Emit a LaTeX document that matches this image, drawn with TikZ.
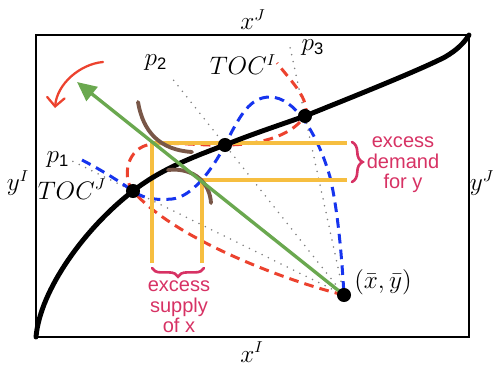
\documentclass[tikz,border=0pt]{standalone}
\usepackage{amsmath}
\usepackage{fontspec}
\setsansfont{Liberation Sans}
\usetikzlibrary{arrows.meta,positioning,calc,decorations.pathreplacing}
\definecolor{tocred}{RGB}{236,66,46}
\definecolor{tocblue}{RGB}{22,52,238}
\definecolor{pricegreen}{RGB}{106,168,79}
\definecolor{excessyellow}{RGB}{246,190,64}
\definecolor{icbrown}{RGB}{121,87,72}
\definecolor{notepink}{RGB}{215,50,100}

\begin{document}
\begin{tikzpicture}[
      x=0.02cm, y=-0.02cm,
      >=Stealth,
      eq/.style={circle, fill=black, inner sep=0pt, minimum size=8pt},
      lbl/.style={font=\fontsize{13.5}{16}\selectfont, inner sep=1pt},
      note/.style={font=\sffamily\fontsize{11.4}{11.6}\selectfont, text=notepink,
        align=center, inner sep=0pt},
      toc/.style={line width=1.7pt, dash pattern=on 5.5pt off 3.5pt},
      price/.style={black!50, line width=1pt, dash pattern=on 0pt off 4pt, line cap=round},
      excess/.style={excessyellow, line width=2.2pt},
      ic/.style={icbrown, line width=2.2pt, line cap=round},
      curly/.style={notepink, line width=1.5pt, line cap=round, decorate},
  ]
      \useasboundingbox (0,0) rectangle (497,366);

      % Edgeworth box
      \draw[line width=1.1pt] (36,35) rectangle (469,337);
      \node[lbl] (xJ) at (253,20) {$x^J$};
      \node[lbl] (xI) at (252,352) {$x^I$};
      \node[lbl] (yI) at (18,183) {$y^I$};
      \node[lbl] (yJ) at (482,183) {$y^J$};

      % Endowment and equilibria
      \coordinate (endow) at (344,295);
      \coordinate (eq1) at (133,191);
      \coordinate (eq2) at (225,145);
      \coordinate (eq3) at (305,116);

      % Price lines through the endowment
      \draw[price] (endow) -- ($(endow)!1.3!(eq1)$) coordinate (p1end);
      \draw[price] (endow) -- ($(endow)!1.45!(eq2)$) coordinate (p2end);
      \draw[price] (endow) -- ($(endow)!1.39!(eq3)$) coordinate (p3end);
      \node[lbl] (p1) at (58,160) {$p_{\mathsf{1}}$};
      \node[lbl] (p2) at (156,63) {$p_{\mathsf{2}}$};
      \node[lbl] (p3) at (313,48) {$p_{\mathsf{3}}$};

      % Offer curves
      \draw[toc, tocred] (endow) .. controls (290,282) and (175,240) .. (eq1)
        .. controls (122,178) and (126,147) .. (152,144)
        .. controls (178,142) and (205,146) .. (eq2)
        .. controls (255,145) and (290,138) .. (eq3)
        .. controls (311,100) and (290,80) .. (277,63);
      \draw[toc, tocblue] (82,160) .. controls (105,172) and (120,182) .. (eq1)
        .. controls (145,200) and (160,200) .. (172,199)
        .. controls (192,197) and (212,170) .. (eq2)
        .. controls (240,115) and (250,97) .. (270,97)
        .. controls (295,97) and (318,135) .. (330,177)
        .. controls (338,210) and (342,260) .. (endow);
      \node[lbl] (tocI) at (243,65) {$TOC^I$};
      \node[lbl] (tocJ) at (72,189) {$TOC^J$};

      % Excess demand and supply
      \coordinate (yl1) at (152,143);
      \coordinate (yr1) at (347,143);
      \coordinate (yl2) at (202,180);
      \coordinate (yr2) at (347,180);
      \coordinate (yb1) at (152,263);
      \coordinate (yb2) at (202,263);
      \draw[excess] (yb1) -- (yl1) -- (yr1);
      \draw[excess] (yb2) -- (yl2) -- (yr2);

      % Contract curve
      \draw[line width=2.8pt, line cap=round] (36,337) .. controls (40,290) and (85,228) .. (eq1)
        .. controls (160,170) and (190,158) .. (eq2)
        .. controls (255,133) and (280,125) .. (eq3)
        .. controls (350,98) and (420,70) .. (445,57)
        .. controls (457,50) and (464,43) .. (469,35);

      % Indifference curves
      \draw[ic] (138,102) .. controls (143,132) and (160,150) .. (192,152);
      \draw[ic] (168,170) .. controls (195,167) and (210,184) .. (211,203);

      % Budget line and rotation
      \coordinate (tip) at (77,82);
      \draw[pricegreen, line width=1.9pt, -{Triangle[length=11pt, width=10pt]}] (endow) -- (tip);
      \coordinate (rotfrom) at (103,62);
      \coordinate (rotto) at (55,108);
      \draw[tocred, line width=1.3pt, line cap=round,
        -{Straight Barb[length=5pt, width=10pt, line cap=round]}]
        (rotfrom) .. controls (80,64) and (57,84) .. (rotto);

      % Dots
      \node[eq] (endowdot) at (endow) {};
      \node[eq] (eqdot1) at (eq1) {};
      \node[eq] (eqdot2) at (eq2) {};
      \node[eq] (eqdot3) at (eq3) {};
      \node[lbl] (endowlbl) at (383,282) {$(\bar{x},\bar{y})$};

      % Braces and notes
      \draw[curly, decoration={brace, amplitude=6pt}] (352,142) -- (352,182);
      \draw[curly, decoration={brace, mirror, amplitude=5pt}] (152,268) -- (204,268);
      \node[note] (demandnote) at (403,165) {excess\\demand\\for y};
      \node[note] (supplynote) at (179,307) {excess\\supply\\of x};

  \end{tikzpicture}
\end{document}
